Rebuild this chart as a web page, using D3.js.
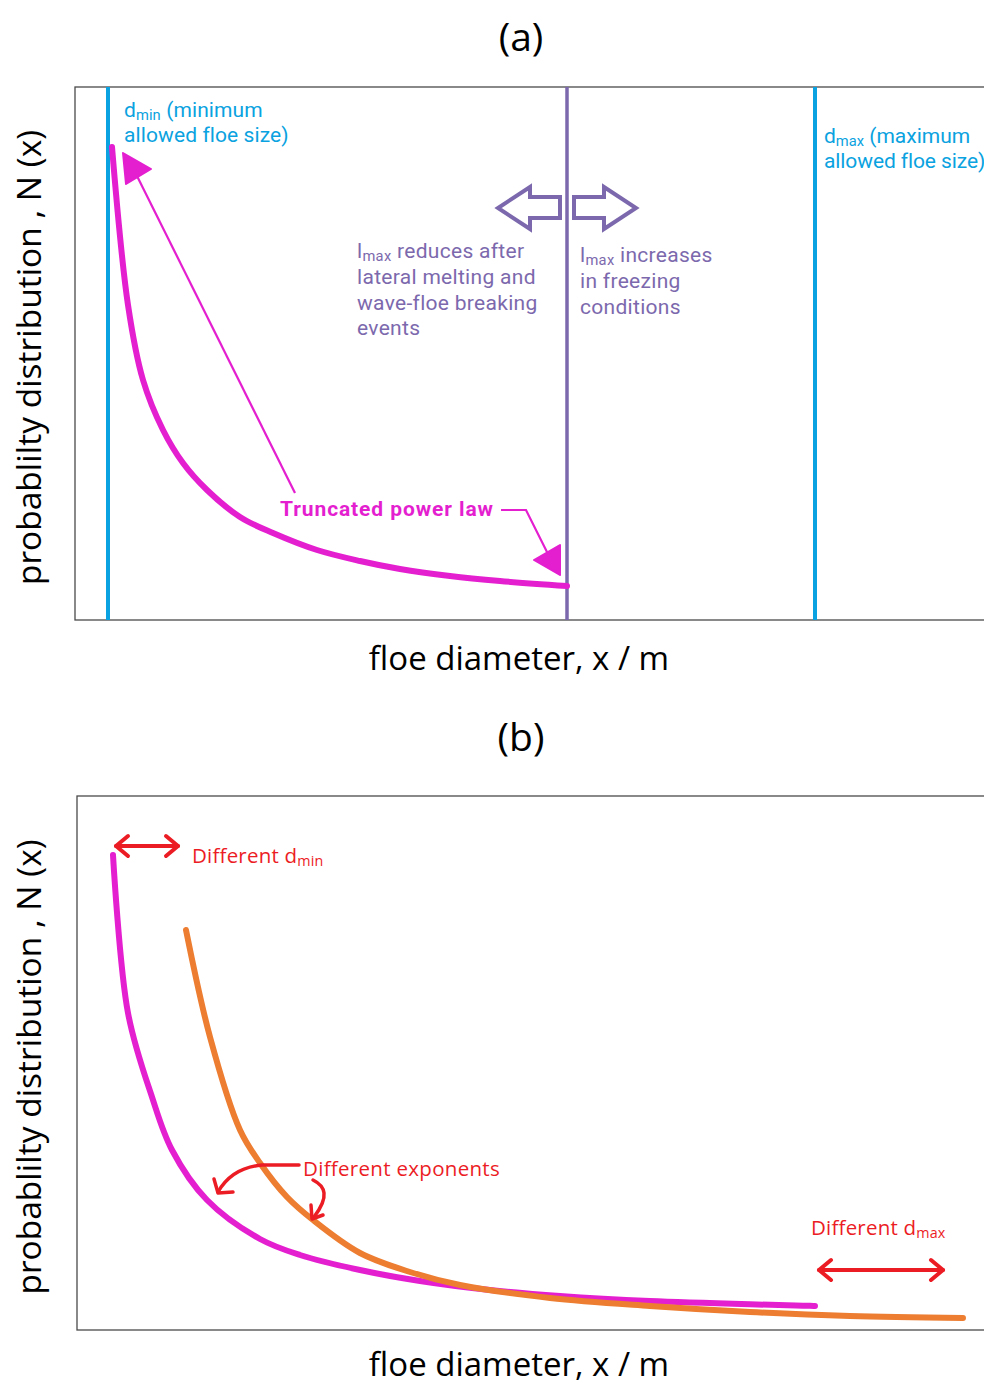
<!DOCTYPE html>
<html>
<head>
<meta charset="utf-8">
<script src="https://cdn.jsdelivr.net/npm/d3@7"></script>
<style>
  body { margin: 0; background: #fff; }
  svg { display: block; }
</style>
</head>
<body>
<svg id="svg" width="984" height="1386"></svg>
<script>
// curve readings, x = floe diameter units, y = N(x) units
var curveA_x = [37, 53, 68, 88, 108, 132, 165, 198, 242, 285, 325, 375, 425, 492];
var curveA_y = [473, 315, 240, 190, 157, 130, 103, 87, 70, 59, 51, 44, 39, 34];

var curveB1_x = [36, 51, 75, 95, 130, 183, 223, 283, 343, 413, 483, 573, 738];
var curveB1_y = [475, 317, 233, 180, 130, 91, 75, 60, 49, 40, 34, 29, 24];

var curveB2_x = [109, 133, 163, 183, 210, 236, 283, 333, 383, 473, 573, 673, 773, 886];
var curveB2_y = [400, 293, 200, 167, 133, 110, 77, 58, 45, 32, 24, 18, 14, 12];

// vertical markers in panel (a)
var markerNames = ['dmin', 'lmax', 'dmax'];
var markerX = [33, 492, 740];

var panelTitles = ['(a)', '(b)'];
var xLabel = 'floe diameter, x / m';
var yLabel = 'probablilty distribution , N (x)';

var MAGENTA = '#e41fd0', ORANGE = '#ed7d31', CYAN = '#0aa2e0', PURPLE = '#7c69ad', RED = '#ec1c24';

var svg = d3.select('#svg');

function zip(xs, ys) { return xs.map(function (x, i) { return {x: x, y: ys[i]}; }); }

function panel(left, top, bottom, title, titleY, labelY) {
    var xs = d3.scaleLinear().domain([0, 909]).range([left, left + 909]);
    var ys = d3.scaleLinear().domain([0, bottom - top]).range([bottom, top]);
    svg.append('rect')
        .attr('x', left).attr('y', top)
        .attr('width', 1100).attr('height', bottom - top)
        .attr('fill', 'none').attr('stroke', '#4a4a4a').attr('stroke-width', 1.3);
    svg.append('text').attr('x', 521).attr('y', titleY)
        .attr('text-anchor', 'middle').attr('font-family', 'Open Sans')
        .attr('font-size', 39).text(title);
    svg.append('text').attr('x', 519).attr('y', labelY)
        .attr('text-anchor', 'middle').attr('font-family', 'Open Sans')
        .attr('font-size', 33).text(xLabel);
    svg.append('text')
        .attr('transform', 'translate(41,' + ((top + bottom) / 2 + 4) + ') rotate(-90)')
        .attr('text-anchor', 'middle').attr('font-family', 'Open Sans')
        .attr('font-size', 33.5).text(yLabel);
    return {x: xs, y: ys};
}

function drawCurve(sc, data, color) {
    var line = d3.line().x(function (d) { return sc.x(d.x); }).y(function (d) { return sc.y(d.y); })
        .curve(d3.curveCatmullRom.alpha(0.5));
    svg.append('path').datum(data).attr('d', line)
        .attr('fill', 'none').attr('stroke', color).attr('stroke-width', 6)
        .attr('stroke-linecap', 'round').attr('stroke-linejoin', 'round');
}

function subText(x, y, main, sub, rest, color, family, size, ls) {
    var t = svg.append('text').attr('x', x).attr('y', y)
        .attr('font-family', family).attr('font-size', size).attr('fill', color)
        .attr('letter-spacing', ls || 0);
    t.append('tspan').text(main);
    t.append('tspan').attr('font-size', size * 0.7).attr('dy', 3).text(sub);
    t.append('tspan').attr('dy', -3).text(rest);
    return t;
}

function lines(x, y0, step, arr, color, family, size, weight, ls) {
    arr.forEach(function (s, i) {
        svg.append('text').attr('x', x).attr('y', y0 + i * step)
            .attr('font-family', family).attr('font-size', size)
            .attr('letter-spacing', ls || 0)
            .attr('font-weight', weight || 'normal').attr('fill', color).text(s);
    });
}

// ---------------- panel (a)
var A = panel(75, 87, 620, panelTitles[0], 51, 670);
var markerColor = [CYAN, PURPLE, CYAN];
markerX.forEach(function (mx, i) {
    svg.append('line').attr('x1', A.x(mx)).attr('x2', A.x(mx))
        .attr('y1', A.y(533)).attr('y2', A.y(0))
        .attr('stroke', markerColor[i]).attr('stroke-width', i === 1 ? 3.5 : 4);
});
drawCurve(A, zip(curveA_x, curveA_y), MAGENTA);

var F = 'Roboto', FS = 21;
subText(124, 117, 'd', 'min', ' (minimum', CYAN, F, FS, 0.1);
lines(124, 142, 25, ['allowed floe size)'], CYAN, F, FS, 'normal', 0.1);
subText(824, 143, 'd', 'max', ' (maximum', CYAN, F, FS, 0);
lines(824, 168, 25, ['allowed floe size)'], CYAN, F, FS, 'normal', -0.1);

subText(357, 258, 'l', 'max', ' reduces after', PURPLE, F, FS, 0.3);
lines(357, 284, 25.5, ['lateral melting and', 'wave-floe breaking', 'events'], PURPLE, F, FS, 'normal', 0.3);
subText(580, 262, 'l', 'max', ' increases', PURPLE, F, FS, 0.3);
lines(580, 288, 25.5, ['in freezing', 'conditions'], PURPLE, F, FS, 'normal', 0.3);

// hollow arrows either side of lmax
var hollow = d3.line();
var lx = A.x(markerX[1]);
[-1, 1].forEach(function (s) {
    var b = lx + s * 7, m = lx + s * 37, tip = lx + s * 69;
    svg.append('path').attr('d', hollow([[b, 197], [m, 197], [m, 187], [tip, 208], [m, 229], [m, 218], [b, 218]]) + 'Z')
        .attr('fill', '#fff').attr('stroke', PURPLE).attr('stroke-width', 4).attr('stroke-linejoin', 'miter');
});

lines(280, 516, 0, ['Truncated power law'], MAGENTA, F, 21, 'bold', 0.9);
// pointer to dmin
svg.append('line').attr('x1', 295).attr('y1', 493).attr('x2', 137).attr('y2', 176)
    .attr('stroke', MAGENTA).attr('stroke-width', 2.2);
svg.append('path').attr('d', hollow([[123, 153], [151, 169], [126, 184]]) + 'Z')
    .attr('fill', MAGENTA).attr('stroke', MAGENTA).attr('stroke-width', 2).attr('stroke-linejoin', 'round');
// pointer to lmax end
svg.append('path').attr('d', hollow([[501, 510], [526, 510], [549, 556]]))
    .attr('fill', 'none').attr('stroke', MAGENTA).attr('stroke-width', 2.2);
svg.append('path').attr('d', hollow([[560, 545], [534, 560], [560, 575]]) + 'Z')
    .attr('fill', MAGENTA).attr('stroke', MAGENTA).attr('stroke-width', 2).attr('stroke-linejoin', 'round');

// ---------------- panel (b)
var B = panel(77, 796, 1330, panelTitles[1], 751, 1376);
drawCurve(B, zip(curveB1_x, curveB1_y), MAGENTA);
drawCurve(B, zip(curveB2_x, curveB2_y), ORANGE);

var C = 'Open Sans', CS = 20.5;
subText(192, 863, 'Different d', 'min', '', RED, C, CS, 0.2);
lines(303, 1176, 0, ['Different exponents'], RED, C, CS, 'normal', 0.3);
subText(811, 1235, 'Different d', 'max', '', RED, C, CS, 0.2);

function dbl(x1, x2, y) {
    var g = svg.append('g').attr('fill', 'none').attr('stroke', RED)
        .attr('stroke-width', 4).attr('stroke-linecap', 'round').attr('stroke-linejoin', 'round');
    g.append('path').attr('d', hollow([[x1, y], [x2, y]]));
    g.append('path').attr('d', hollow([[x1 + 12, y - 10], [x1, y], [x1 + 12, y + 10]]));
    g.append('path').attr('d', hollow([[x2 - 12, y - 10], [x2, y], [x2 - 12, y + 10]]));
}
dbl(116, 178, 846);
dbl(819, 943, 1270);

var red = svg.append('g').attr('fill', 'none').attr('stroke', RED)
    .attr('stroke-width', 3.5).attr('stroke-linecap', 'round').attr('stroke-linejoin', 'round');
red.append('path').attr('d', 'M299,1165 L262,1165 C240,1167 226,1178 218,1192');
red.append('path').attr('d', 'M214,1179 L218,1193 L233,1192');
red.append('path').attr('d', 'M313,1180 C325,1186 330,1196 314,1217');
red.append('path').attr('d', 'M311,1205 L312,1219 L323,1215');
</script>
</body>
</html>
